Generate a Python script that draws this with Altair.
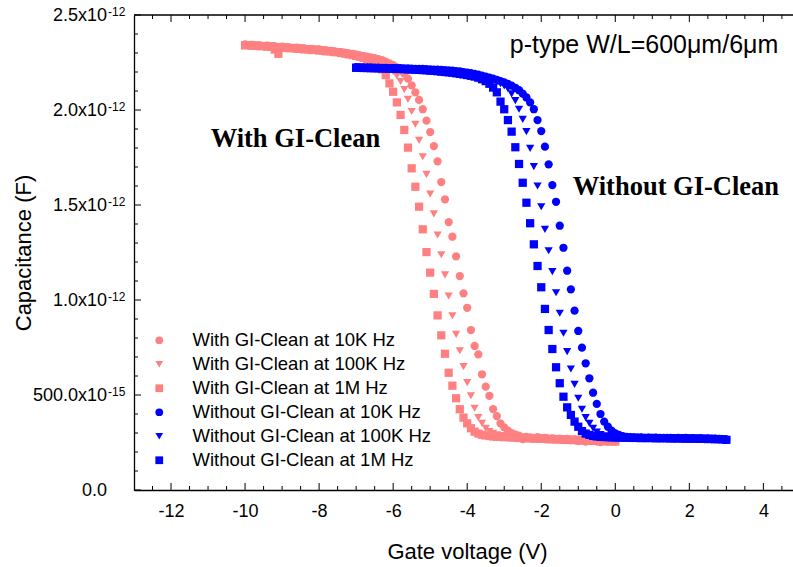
import altair as alt
import pandas as pd

# Gate-voltage sweeps (V) of the two devices, 0.1 V steps
V_WITH = [i / 10 for i in range(-100, 1)]
V_WITHOUT = [i / 10 for i in range(-70, 31)]

# Capacitance, in fF (1e-15 F)
WITH_10K = [
    2345, 2341, 2343, 2338, 2340, 2336, 2339, 2334, 2336, 2331,
    2333, 2329, 2330, 2327, 2328, 2324, 2325, 2321, 2322, 2318,
    2319, 2315, 2314, 2311, 2310, 2306, 2304, 2301, 2298, 2295,
    2291, 2288, 2284, 2281, 2277, 2273,
    2268, 2262, 2255, 2246, 2236, 2224, 2210, 2192, 2165, 2130,
    2093, 2053, 2004, 1944, 1884, 1810, 1730, 1621, 1530, 1410,
    1333, 1230, 1126, 1035, 959, 842, 758, 714, 609, 544,
    496, 426, 389, 351, 330, 312, 300, 292, 286, 268,
    280, 276, 272, 278, 270, 274, 268, 272, 266, 270,
    265, 269, 262, 266, 258, 264, 255, 260, 262, 256,
    252, 258, 254, 257, 256,
]
WITH_100K = [
    2343, 2344, 2339, 2341, 2337, 2338, 2335, 2336, 2332, 2334,
    2330, 2331, 2327, 2328, 2325, 2325, 2322, 2322, 2319, 2319,
    2316, 2316, 2312, 2312, 2308, 2307, 2303, 2301, 2297, 2294,
    2290, 2286, 2281, 2276,
    2270, 2263, 2255, 2245, 2233, 2219, 2202, 2180, 2150, 2108,
    2056, 1992, 1925, 1840, 1754, 1661, 1558, 1453, 1342, 1238,
    1132, 1021, 917, 819, 733, 649, 565, 496, 430, 381,
    351, 325, 308, 298, 291, 287, 283, 281, 278, 280,
    276, 278, 274, 277, 273, 275, 271, 273, 270, 272,
    268, 270, 267, 268, 265, 267, 263, 265, 262, 263,
    260, 262, 259, 260, 258, 259, 257,
]
WITH_1M = [
    2340, 2342, 2338, 2340, 2336, 2337, 2333, 2334, 2318, 2296,
    2328, 2329, 2325, 2326, 2322, 2323, 2319, 2320, 2316, 2317,
    2313, 2313, 2309, 2309, 2305, 2304, 2300, 2297, 2293, 2289,
    2285, 2280,
    2274, 2267, 2258, 2248, 2235, 2214, 2184, 2140, 2096, 2040,
    1974, 1895, 1802, 1693, 1596, 1491, 1372, 1252, 1144, 1032,
    919, 814, 717, 617, 549, 483, 425, 381, 351, 325,
    307, 297, 291, 287, 284, 282, 280, 281, 278, 279,
    276, 277, 274, 275, 272, 273, 270, 272, 269, 270,
    267, 268, 266, 267, 264, 265, 263, 264, 261, 262,
    260, 261, 258, 259, 257, 258, 256, 257, 255,
]
WITHOUT_10K = [
    2226, 2225, 2225, 2224, 2224, 2223, 2223, 2222, 2222, 2221,
    2221, 2220, 2220, 2219, 2219, 2218, 2217, 2217, 2216, 2215,
    2214, 2213, 2212, 2211, 2210, 2208, 2207, 2205, 2203, 2200,
    2197,
    2194, 2190, 2186, 2181, 2176, 2171, 2165, 2159, 2152, 2145,
    2137, 2128, 2117, 2104, 2086, 2066, 2040, 2004, 1947, 1889,
    1807, 1714, 1605, 1517, 1391, 1275, 1154, 1056, 944, 837,
    749, 667, 588, 512, 453, 400, 360, 333, 312, 298,
    290, 284, 280, 278, 277, 276, 277, 275, 276, 275,
    276, 274, 275, 274, 275, 273, 274, 273, 274, 272,
    273, 272, 273, 271, 272, 270, 271, 269, 268, 266,
]
WITHOUT_100K = [
    2224, 2224, 2223, 2223, 2222, 2222, 2221, 2221, 2220, 2220,
    2219, 2219, 2218, 2218, 2217, 2216, 2216, 2215, 2214, 2213,
    2212, 2211, 2210, 2209, 2207, 2206, 2204, 2202, 2200, 2197,
    2194,
    2190, 2186, 2181, 2176, 2170, 2163, 2155, 2147, 2138, 2127,
    2112, 2085, 2049, 2004, 1951, 1886, 1798, 1702, 1600, 1491,
    1372, 1259, 1149, 1038, 930, 825, 728, 637, 556, 483,
    425, 381, 351, 325, 305, 292, 285, 281, 279, 278,
    277, 276, 276, 275, 276, 274, 275, 274, 275, 273,
    274, 273, 274, 272, 273, 272, 273, 271, 272, 271,
    271, 270, 271, 269, 270, 268, 269, 267, 267, 265,
]
WITHOUT_1M = [
    2222, 2222, 2221, 2221, 2220, 2220, 2219, 2219, 2218, 2218,
    2217, 2216, 2216, 2215, 2214, 2213, 2212, 2211, 2210, 2209,
    2207, 2206, 2204, 2202, 2200, 2198, 2196, 2193, 2190, 2187,
    2184,
    2180, 2176, 2170, 2162, 2152, 2138, 2118, 2093, 2044, 2004,
    1947, 1886, 1804, 1716, 1617, 1512, 1404, 1293, 1179, 1067,
    953, 842, 742, 646, 562, 491, 435, 395, 360, 333,
    310, 297, 290, 285, 282, 280, 279, 278, 277, 277,
    276, 276, 275, 275, 274, 275, 273, 274, 273, 274,
    272, 273, 272, 273, 271, 272, 271, 272, 270, 271,
    270, 270, 269, 270, 268, 269, 267, 268, 266, 264,
]

SERIES = [
    "With GI-Clean at 10K Hz", "With GI-Clean at 100K Hz", "With GI-Clean at 1M Hz",
    "Without GI-Clean at 10K Hz", "Without GI-Clean at 100K Hz", "Without GI-Clean at 1M Hz",
]
COLORS = ["#FF8080", "#FF8080", "#FF8080", "#0000FF", "#0000FF", "#0000FF"]
SHAPES = ["circle", "triangle-down", "square", "circle", "triangle-down", "square"]

X_MAJOR = [-12, -10, -8, -6, -4, -2, 0, 2, 4]
X_MINOR = [-12.5, -11.5, -11, -10.5, -9.5, -9, -8.5, -7.5, -7, -6.5, -5.5, -5, -4.5,
           -3.5, -3, -2.5, -1.5, -1, -0.5, 0.5, 1, 1.5, 2.5, 3, 3.5, 4.5]
Y_MAJOR = [0, 500, 1000, 1500, 2000, 2500]
Y_MINOR = [100, 200, 300, 400, 600, 700, 800, 900, 1100, 1200, 1300, 1400,
           1600, 1700, 1800, 1900, 2100, 2200, 2300, 2400]
Y_BASE = ["0.0", "500.0x10", "1.0x10", "1.5x10", "2.0x10", "2.5x10"]
Y_EXP = ["", "-15", "-12", "-12", "-12", "-12"]

NOTES = ["With GI-Clean", "Without GI-Clean"]
NOTE_V = [-10.93, -1.15]
NOTE_C = [1805, 1553]
INFO = ["p-type W/L=600\u03bcm/6\u03bcm"]
INFO_V = [-2.85]
INFO_C = [2300]

SANS = "Liberation Sans"
SERIF = "Liberation Serif"
W, H = 659, 475
XDOM = [-13.0, 4.8]
YDOM = [0, 2500]

draw = [
    (SERIES[2], V_WITH, WITH_1M), (SERIES[1], V_WITH, WITH_100K), (SERIES[0], V_WITH, WITH_10K),
    (SERIES[5], V_WITHOUT, WITHOUT_1M), (SERIES[4], V_WITHOUT, WITHOUT_100K), (SERIES[3], V_WITHOUT, WITHOUT_10K),
]
frames = []
for name, v, c in draw:
    assert len(v) == len(c), (name, len(v), len(c))
    frames.append(pd.DataFrame({"V": v, "C": c, "series": name}))
df = pd.concat(frames, ignore_index=True)

xs = alt.Scale(domain=XDOM, nice=False, zero=False)
ys = alt.Scale(domain=YDOM, nice=False, zero=False)

AX_X = alt.Axis(
    values=X_MAJOR, ticks=False, labelFont=SANS, labelFontSize=18, labelColor="black",
    labelPadding=12, labelExpr="toString(datum.value)", labelFlush=False, labelOverlap=False,
    domainColor="black", domainWidth=1.3, grid=False,
    title="Gate voltage (V)", titleFont=SANS, titleFontSize=22, titleFontWeight="normal",
    titleColor="black", titleBaseline="alphabetic", titleY=68, titleX=333)
AX_Y = alt.Axis(
    labels=False, ticks=False, grid=False, domainColor="black", domainWidth=1.3,
    title="Capacitance (F)", titleFont=SANS, titleFontSize=22, titleFontWeight="normal",
    titleColor="black", titleAngle=270, titleBaseline="alphabetic", titleAlign="center",
    titleX=-104, titleY=H / 2)


def X(field):
    return alt.X(field, scale=xs, axis=AX_X)


def Y(field):
    return alt.Y(field, scale=ys, axis=AX_Y)


leg = alt.Legend(title=None, orient="none", legendX=16, legendY=316, labelFont=SANS,
                 labelFontSize=18.5, labelColor="black", labelLimit=400, symbolSize=60,
                 symbolStrokeWidth=0, rowPadding=5, padding=0, labelOffset=24,
                 direction="vertical")

points = alt.Chart(df).mark_point(filled=True, opacity=1, size=68).encode(
    x=X("V:Q"),
    y=Y("C:Q"),
    color=alt.Color("series:N", scale=alt.Scale(domain=SERIES, range=COLORS), legend=leg),
    shape=alt.Shape("series:N", scale=alt.Scale(domain=SERIES, range=SHAPES), legend=leg),
)


def xticks(vals, y0, y1):
    return alt.Chart(pd.DataFrame({"V": vals})).mark_rule(color="black", strokeWidth=1).encode(
        x=X("V:Q"), y=alt.value(y0), y2=alt.value(y1))


def yticks(vals, x0, x1):
    return alt.Chart(pd.DataFrame({"C": vals})).mark_rule(color="black", strokeWidth=1).encode(
        y=Y("C:Q"), x=alt.value(x0), x2=alt.value(x1))


ticks = [
    xticks(X_MAJOR, H, H - 7), xticks(X_MINOR, H, H - 4),
    xticks(X_MAJOR, 0, 7), xticks(X_MINOR, 0, 4),
    yticks(Y_MAJOR, 0, 7), yticks(Y_MINOR, 0, 4),
]

ylab = pd.DataFrame({"C": Y_MAJOR, "base": Y_BASE, "exp": Y_EXP})
ybase = alt.Chart(ylab).mark_text(align="right", baseline="alphabetic", font=SANS, fontSize=18,
                                  color="black", dy=6).encode(
    x=alt.value(-27), y=Y("C:Q"), text="base:N")
yexp = alt.Chart(ylab).mark_text(align="left", baseline="alphabetic", font=SANS, fontSize=12,
                                 color="black", dy=1).encode(
    x=alt.value(-26), y=Y("C:Q"), text="exp:N")

notes = alt.Chart(pd.DataFrame({"V": NOTE_V, "C": NOTE_C, "t": NOTES})).mark_text(
    align="left", baseline="alphabetic", font=SERIF, fontSize=26.5, fontWeight="bold", color="black"
).encode(x=X("V:Q"), y=Y("C:Q"), text="t:N")

info = alt.Chart(pd.DataFrame({"V": INFO_V, "C": INFO_C, "t": INFO})).mark_text(
    align="left", baseline="alphabetic", font=SANS, fontSize=25, color="black"
).encode(x=X("V:Q"), y=Y("C:Q"), text="t:N")

frame_top = alt.Chart(pd.DataFrame({"k": [0]})).mark_rule(color="black", strokeWidth=1.3).encode(
    x=alt.value(0), x2=alt.value(W), y=alt.value(0))

chart = alt.layer(points, *ticks, ybase, yexp, notes, info, frame_top).properties(
    width=W, height=H,
    padding={"left": 134, "top": 15, "right": 0, "bottom": 77},
    autosize=alt.AutoSizeParams(type="none"),
).configure_view(stroke=None)

chart.save("out.html", embed_options={"renderer": "svg", "actions": False})
